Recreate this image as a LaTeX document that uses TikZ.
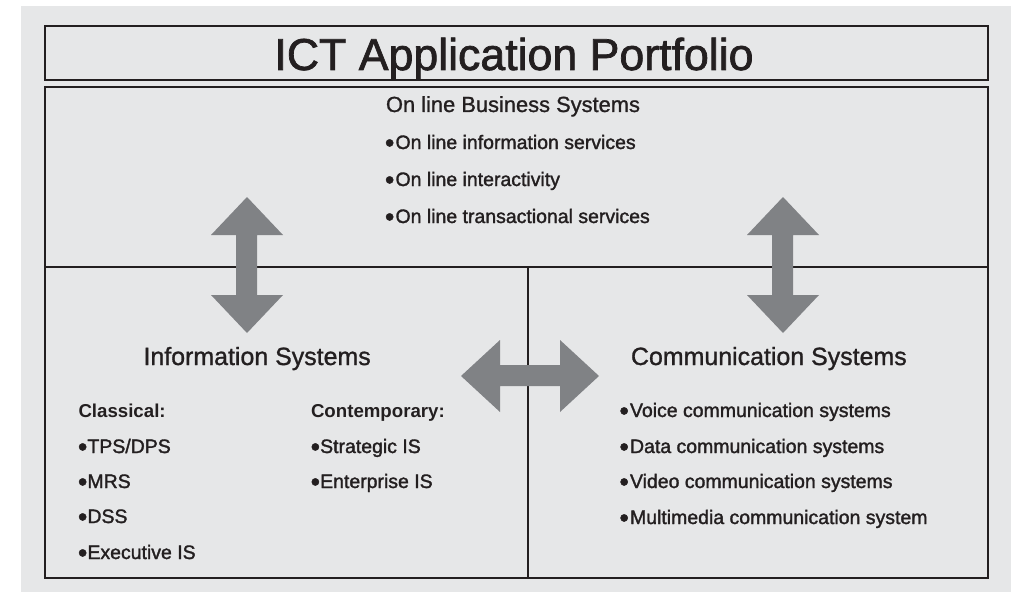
\documentclass[tikz,border=0pt]{standalone}
\usepackage{fontspec}
\setmainfont{Liberation Sans}
\newfontfamily\medfont[FakeBold=1.6]{Liberation Sans}
\newfontfamily\headfont[FakeBold=1.1]{Liberation Sans}
\newfontfamily\strongfont{Liberation Sans Bold}
\newcommand{\bulshape}{\raisebox{-2.1pt}{\fontsize{20pt}{20pt}\selectfont •}}
\newcommand{\bul}{\bulshape\kern0.9pt}
\newcommand{\bult}{\bulshape\kern0.1pt}
\definecolor{panel}{HTML}{E6E7E8}
\definecolor{ink}{HTML}{231F20}
\definecolor{arrowgray}{HTML}{808285}
\tikzset{
  x=0.75pt,y=-0.75pt,
  frame/.style={draw=ink,line width=0.9pt},
  rule/.style={draw=ink,line width=0.9pt},
  bigarrow/.style={fill=arrowgray,draw=none},
  lbl/.style={anchor=base west,inner sep=0pt,outer sep=0pt,text=ink,font=\medfont\fontsize{14.6pt}{15pt}\selectfont},
  subh/.style={lbl,font=\strongfont\fontsize{14pt}{15pt}\selectfont},
  sect/.style={lbl,font=\headfont\fontsize{16.4pt}{18pt}\selectfont},
  head/.style={anchor=base west,inner sep=0pt,outer sep=0pt,text=ink,font=\headfont\fontsize{18.7pt}{20pt}\selectfont},
  ttl/.style={anchor=base,inner sep=0pt,outer sep=0pt,text=ink,font=\medfont\fontsize{33.5pt}{36pt}\selectfont},
}
\begin{document}
\begin{tikzpicture}
\useasboundingbox (0,0) rectangle (1011,592);
\fill[panel] (21,6) rectangle (1011,592);
\draw[frame] (45,26) rectangle (988,80);
\draw[frame] (45,87) rectangle (988,578);
\coordinate (hl) at (45,267);
\coordinate (hr) at (988,267);
\coordinate (vt) at (528,267);
\coordinate (vb) at (528,578);
\draw[rule] (hl) -- (hr);
\draw[rule] (vt) -- (vb);
% arrows
\fill[bigarrow] (247,197) -- (283,235) -- (257,235) -- (257,295) -- (283,295) -- (247,333) -- (211,295) -- (236,295) -- (236,235) -- (211,235) -- cycle;
\fill[bigarrow] (783,197) -- (819,235) -- (793,235) -- (793,295) -- (819,295) -- (783,333) -- (747,295) -- (772,295) -- (772,235) -- (747,235) -- cycle;
\fill[bigarrow] (461,376) -- (500,340) -- (500,365) -- (560,365) -- (560,340) -- (599,376) -- (560,412) -- (560,386) -- (500,386) -- (500,412) -- cycle;
% text
\node[ttl] (title) at (514,70) {ICT Application Portfolio};
\node[sect] (obs) at (386,112) {On line Business Systems};
\node[lbl] (o1) at (385,149) {\bul On line information services};
\node[lbl] (o2) at (385,186) {\bul On line interactivity};
\node[lbl] (o3) at (385,223) {\bul On line transactional services};
\node[head] (is) at (143.5,365) {Information Systems};
\node[head] (cs) at (631,365) {Communication Systems};
\node[subh] (cl) at (78.5,417) {Classical:};
\node[lbl] (c1) at (78,453) {\bult TPS/DPS};
\node[lbl] (c2) at (78,488) {\bult MRS};
\node[lbl] (c3) at (78,523) {\bult DSS};
\node[lbl] (c4) at (78,559) {\bult Executive IS};
\node[subh] (ct) at (311,417) {Contemporary:};
\node[lbl] (t1) at (310.7,453) {\bult Strategic IS};
\node[lbl] (t2) at (310.7,488) {\bult Enterprise IS};
\node[lbl] (r1) at (619.5,417) {\bul Voice communication systems};
\node[lbl] (r2) at (619.5,453) {\bul Data communication systems};
\node[lbl] (r3) at (619.5,488) {\bul Video communication systems};
\node[lbl] (r4) at (619.5,524) {\bul Multimedia communication system};
\end{tikzpicture}
\end{document}
